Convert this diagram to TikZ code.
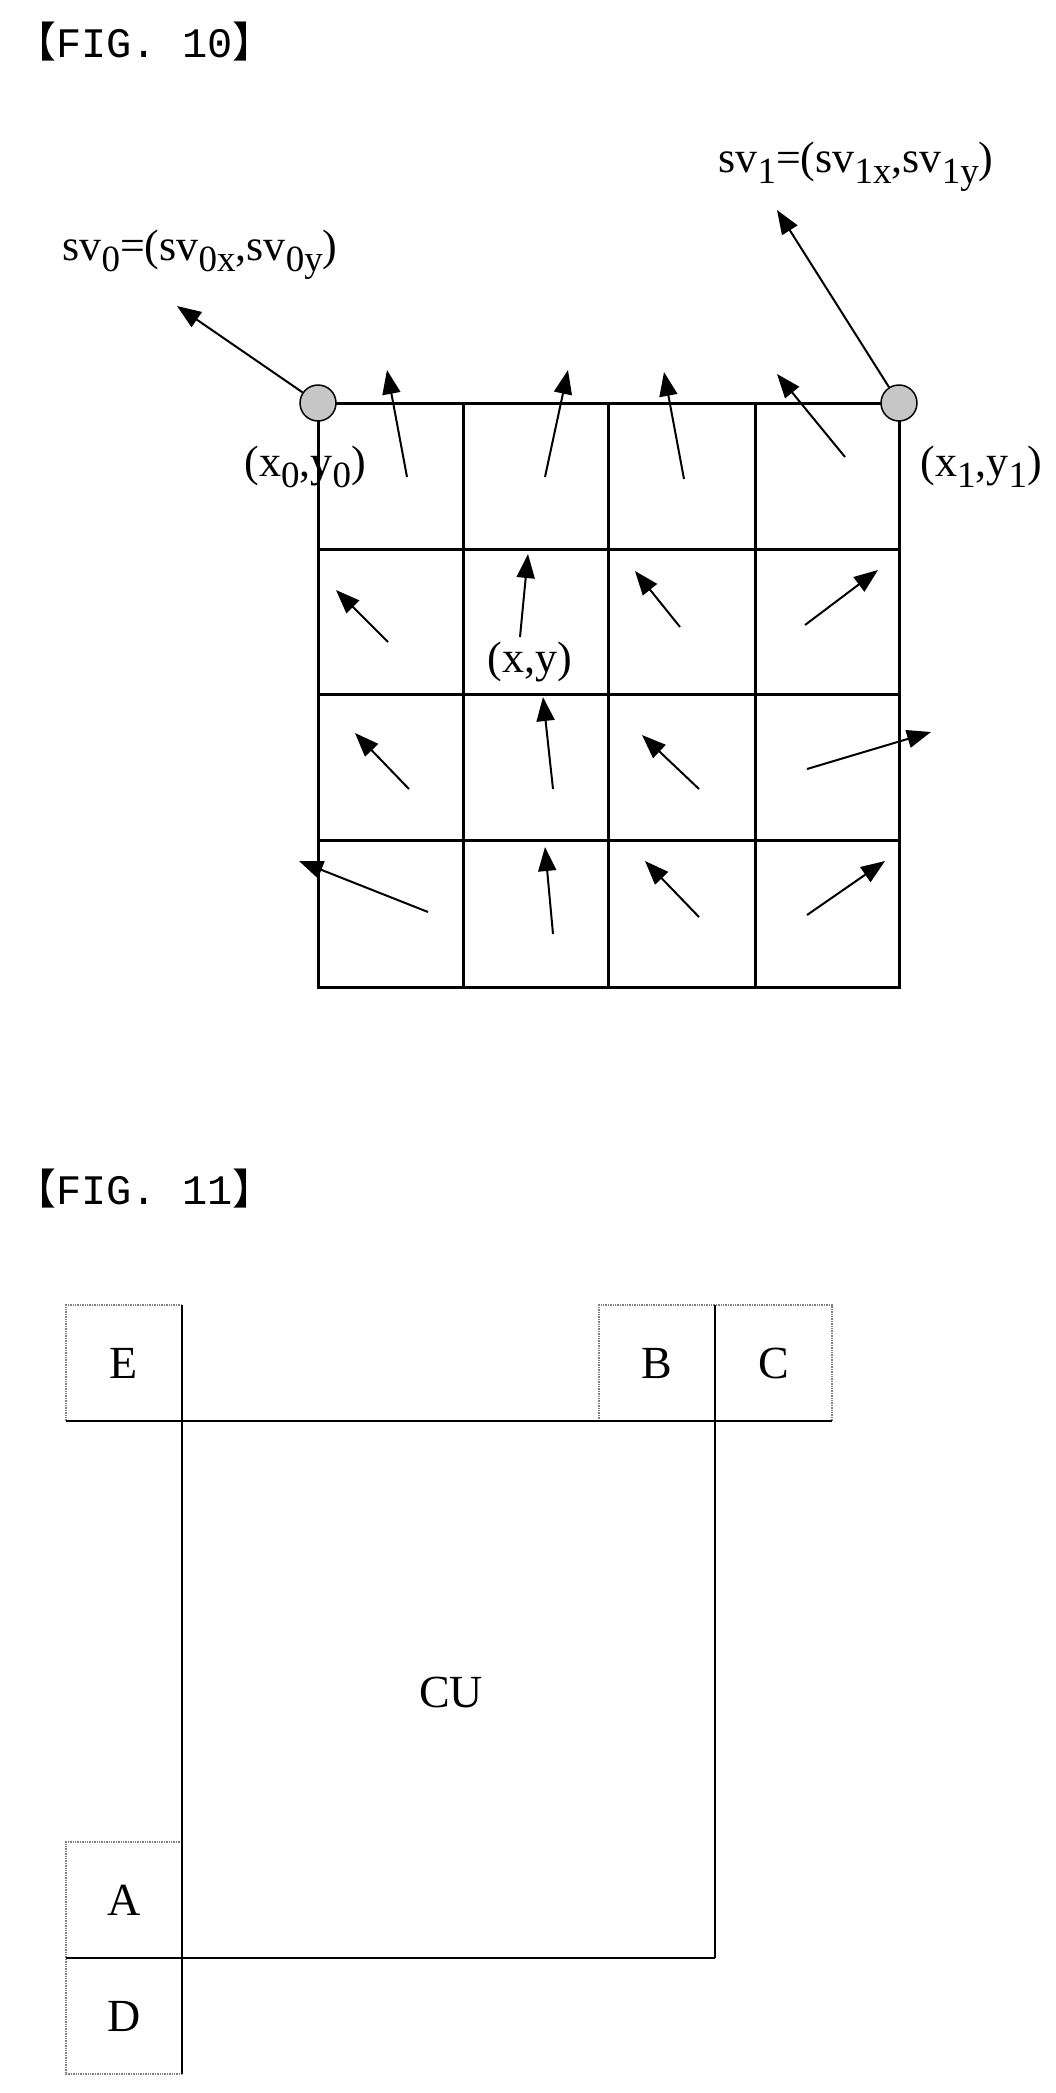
\documentclass[tikz,border=0pt]{standalone}
\usepackage{fontspec}
\setmainfont{Liberation Serif}
\newfontfamily\monofont{Liberation Mono}
\newfontfamily\cjkfont{Noto Sans CJK SC}
\usetikzlibrary{arrows.meta}
\newcommand{\lowsub}[1]{\raisebox{-.55ex}{\fontsize{37}{37}\selectfont #1}}
\newcommand{\figtitle}[1]{{\cjkfont 【}{\monofont #1}{\cjkfont 】}}
\tikzstyle{grid} = [line width=3pt]
\tikzstyle{vec} = [line width=2pt,-{Triangle[length=24pt,width=18pt]}]
\tikzstyle{label} = [inner sep=0pt, font=\fontsize{44}{44}\selectfont]
\tikzstyle{nb} = [font=\fontsize{46}{46}\selectfont]
\tikzstyle{dots} = [line width=1.4pt, densely dotted, gray]
\tikzstyle{edge} = [line width=2pt]

\begin{document}
\begin{tikzpicture}
    [x=1pt, y=-1pt]
  \useasboundingbox (0,0) rectangle (1055,2093);
  % FIG. 10
  \node[anchor=west, inner sep=0pt, font=\fontsize{42}{42}\selectfont] (t10) at (14,42) {\figtitle{FIG. 10}};
  \draw[grid] (318,403) rectangle (899,987);
  \foreach \x in {463,608,755} \draw[grid] (\x,403) -- (\x,987);
  \foreach \y in {549,694,840} \draw[grid] (318,\y) -- (899,\y);
  \node[circle, draw, line width=1.5pt, fill=gray!45, minimum size=36pt, inner sep=0pt] (p0) at (318,403) {};
  \node[circle, draw, line width=1.5pt, fill=gray!45, minimum size=36pt, inner sep=0pt] (p1) at (899,403) {};
  \coordinate (s0) at (177,306);
  \coordinate (s1) at (777,210);
  \draw[vec] (p0) -- (s0);
  \draw[vec] (p1) -- (s1);
  \node[label] (l0) at (200,255) {sv\lowsub{0}=(sv\lowsub{0x},sv\lowsub{0y})};
  \node[label] (l1) at (856,167) {sv\lowsub{1}=(sv\lowsub{1x},sv\lowsub{1y})};
  \node[label] (c0) at (305,467) {(x\lowsub{0},y\lowsub{0})};
  \node[label] (c1) at (981,467) {(x\lowsub{1},y\lowsub{1})};
  \node[label] (xy) at (530,662) {(x,y)};
  % motion vectors of the sub-blocks
  \foreach \a/\b/\c/\d in {
      407/477/387/370, 545/477/568/370, 684/479/664/372, 845/457/777/374,
      388/642/336/590, 520/637/528/554, 680/627/635/571, 805/625/878/570,
      409/789/355/733, 553/789/543/697, 699/789/642/735, 807/769/931/732,
      428/912/299/861, 553/934/545/847, 699/917/645/861, 807/915/885/861}
    \draw[vec] (\a,\b) -- (\c,\d);
  % FIG. 11
  \node[anchor=west, inner sep=0pt, font=\fontsize{42}{42}\selectfont] (t11) at (14,1189) {\figtitle{FIG. 11}};
  \draw[dots] (182,1305) -- (66,1305) -- (66,1421);
  \draw[dots] (599,1421) -- (599,1305) -- (832,1305) -- (832,1421);
  \draw[dots] (182,1842) -- (66,1842) -- (66,2074) -- (182,2074);
  \draw[edge] (66,1421) -- (832,1421);
  \draw[edge] (182,1305) -- (182,2074);
  \draw[edge] (715,1305) -- (715,1958);
  \draw[edge] (66,1958) -- (715,1958);
  \node[nb] (E) at (124,1363) {E};
  \node[nb] (B) at (657,1363) {B};
  \node[nb] (C) at (774,1363) {C};
  \node[nb] (CU) at (451,1692) {CU};
  \node[nb] (A) at (124,1900) {A};
  \node[nb] (D) at (124,2016) {D};
\end{tikzpicture}
\end{document}
